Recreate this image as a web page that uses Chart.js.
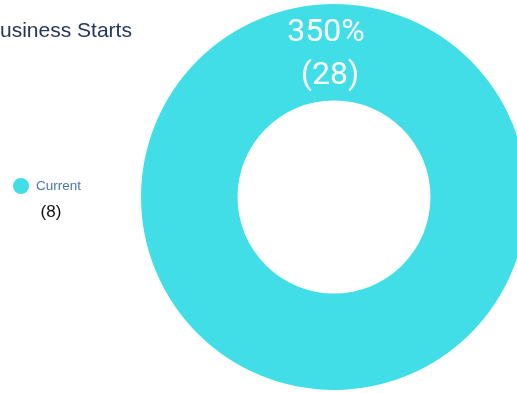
<!DOCTYPE html>
<html>
<head>
<meta charset="utf-8">
<script src="https://cdn.jsdelivr.net/npm/chart.js@4.4.0/dist/chart.umd.min.js"></script>
<style>
  html, body { margin: 0; padding: 0; background: #fff; }
  #wrap { position: relative; width: 517px; height: 393px; overflow: hidden; }
  #startsChart { position: absolute; left: -14px; top: 0; }
</style>
</head>
<body>
<div id="wrap">
  <canvas id="startsChart" width="561" height="393"></canvas>
</div>
<script>
// business starts, current period vs previous period
const chartTitle = 'Business Starts';
const labels = ['Current'];
const currentValues = [28];
const previousValues = [8];
const sliceColors = ['#42dee8'];

// percent of previous, e.g. 28 / 8 -> 350%
function pctOfPrevious(i) {
    return Math.round(currentValues[i] / previousValues[i] * 100) + '%';
}

const titleAndLegend = {
    id: 'titleAndLegend',
    afterDraw(chart) {
        const ctx = chart.ctx;
        ctx.save();
        // title
        ctx.fillStyle = '#24375a';
        ctx.font = '21px "Liberation Sans", Arial, sans-serif';
        ctx.textBaseline = 'alphabetic';
        ctx.textAlign = 'left';
        ctx.fillText(chartTitle, 0, 37);

        // legend on the left, previous count under each label
        labels.forEach((lab, i) => {
            const y = 186 + i * 50;
            ctx.fillStyle = sliceColors[i];
            ctx.beginPath();
            ctx.arc(35, y, 8, 0, Math.PI * 2);
            ctx.fill();
            ctx.fillStyle = '#4a78a6';
            ctx.font = '13.5px "Liberation Sans", Arial, sans-serif';
            ctx.textBaseline = 'middle';
            ctx.fillText(lab, 50, y);
            ctx.fillStyle = '#111';
            ctx.font = '17px "Liberation Sans", Arial, sans-serif';
            ctx.textAlign = 'center';
            ctx.fillText('(' + previousValues[i] + ')', 65, y + 26);
            ctx.textAlign = 'left';
        });
        ctx.restore();
    }
};

const arcLabels = {
    id: 'arcLabels',
    afterDatasetsDraw(chart) {
        const ctx = chart.ctx;
        const meta = chart.getDatasetMeta(0);
        ctx.save();
        ctx.fillStyle = '#fff';
        ctx.font = '32px Roboto, sans-serif';
        ctx.textAlign = 'center';
        ctx.textBaseline = 'middle';
        meta.data.forEach((arc, i) => {
            const p = arc.getProps(['x', 'y', 'innerRadius', 'outerRadius'], true);
            const midY = p.y - (p.innerRadius + p.outerRadius) / 2;
            ctx.fillText(pctOfPrevious(i), p.x - 8, midY - 19);
            ctx.fillText('(' + currentValues[i] + ')', p.x - 4, midY + 24);
        });
        ctx.restore();
    }
};

const ctxS = document.getElementById('startsChart');
new Chart(ctxS, {
    type: 'doughnut',
    data: {
        labels: labels,
        datasets: [{
            data: currentValues,
            backgroundColor: sliceColors,
            borderWidth: 0
        }]
    },
    options: {
        responsive: false,
        animation: false,
        devicePixelRatio: 1,
        cutout: '50%',
        layout: {
            padding: { top: 4, bottom: 3, left: 155, right: 20 }
        },
        plugins: {
            legend: { display: false },
            title: { display: false },
            tooltip: { enabled: false }
        }
    },
    plugins: [arcLabels, titleAndLegend]
});
</script>
</body>
</html>
